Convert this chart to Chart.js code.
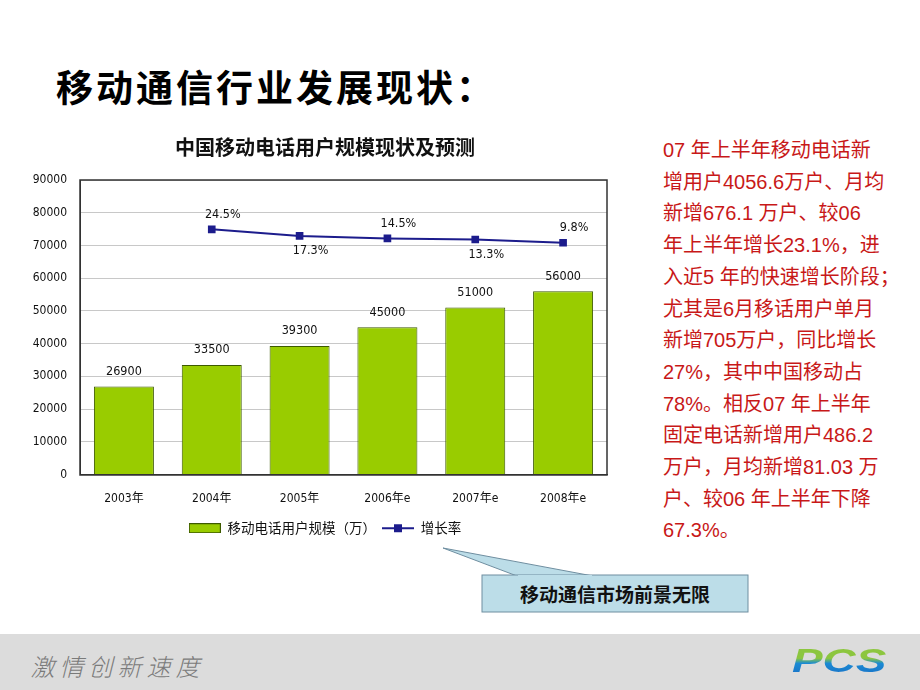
<!DOCTYPE html>
<html>
<head>
<meta charset="utf-8">
<script src="https://cdn.jsdelivr.net/npm/chart.js@4/dist/chart.umd.min.js"></script>
<style>
 body{margin:0;width:920px;height:690px;overflow:hidden;background:#fff;font-family:"Liberation Sans","Noto Sans CJK SC",sans-serif;position:relative}
 #title{position:absolute;left:56px;top:59px;font-size:37px;font-weight:bold;color:#000;letter-spacing:3px;font-family:"Noto Sans CJK SC",sans-serif}
 #wrap{position:absolute;left:20px;top:128px;width:610px;height:417px}
 #note{position:absolute;left:663px;top:135px;font-size:20px;line-height:31.7px;color:#c81818;font-family:"Liberation Sans","Noto Sans CJK SC",sans-serif;white-space:nowrap}
 #callout{position:absolute;left:0;top:0}
 #calloutText{position:absolute;left:482px;top:575px;width:266px;height:37px;line-height:37px;text-align:center;font-size:19px;font-weight:bold;color:#111;font-family:"Noto Sans CJK SC",sans-serif}
 #footer{position:absolute;left:0;top:634px;width:920px;height:56px;background:#dcdcdc}
 #motto{position:absolute;left:33px;top:14px;font-size:24px;color:#7a7a7a;font-family:"Noto Sans CJK SC",sans-serif;font-weight:300;transform:skewX(-14deg);letter-spacing:5px}
 #logo{position:absolute;left:792px;top:9px;font-size:34px;line-height:34px;font-weight:bold;font-style:italic;font-family:"Liberation Sans",sans-serif;background:linear-gradient(180deg,#8cc63f 0%,#8cc63f 45%,#1a8ad4 60%,#1a6fc4 100%);-webkit-background-clip:text;background-clip:text;color:transparent;transform:scaleX(1.35);transform-origin:left top}
</style>
</head>
<body>
<div id="title">移动通信行业发展现状：</div>
<div id="wrap"><canvas id="c" width="610" height="417"></canvas></div>
<div id="note">07 年上半年移动电话新<br>增用户4056.6万户、月均<br>新增676.1 万户、较06<br>年上半年增长23.1%，进<br>入近5 年的快速增长阶段；<br>尤其是6月移话用户单月<br>新增705万户，同比增长<br>27%，其中中国移动占<br>78%。相反07 年上半年<br>固定电话新增用户486.2<br>万户，月均新增81.03 万<br>户、较06 年上半年下降<br>67.3%。</div>
<svg id="callout" width="920" height="690">
 <polygon points="443,548 517,576 593,576" fill="#bcdde8" stroke="#6f8ea0" stroke-width="1"/>
 <rect x="482" y="575" width="266" height="37" fill="#bcdde8" stroke="#6f8ea0" stroke-width="1"/>
 <line x1="518" y1="576" x2="592" y2="576" stroke="#bcdde8" stroke-width="2"/>
</svg>
<div id="calloutText">移动通信市场前景无限</div>
<div id="footer"><div id="motto">激情创新速度</div><div id="logo">PCS</div></div>
<script>
const years = ["2003年","2004年","2005年","2006年e","2007年e","2008年e"]
const users = [26900,33500,39300,45000,51000,56000]
const growth = [null,24.5,17.3,14.5,13.3,9.8]
const growthLabelSide = [null,"up","down","up","down","up"]

const tickFont = {family:"'DejaVu Sans Condensed','Noto Sans CJK SC',sans-serif",size:12}

// legend swatches
function swatch(w,h,draw){
 const c=document.createElement("canvas");c.width=w;c.height=h
 draw(c.getContext("2d"));return c
}
const barSwatch = swatch(32,10,g=>{g.fillStyle="#99cc00";g.fillRect(0,0,32,10);g.strokeStyle="#3d5a00";g.strokeRect(0.5,0.5,31,9)})
const lineSwatch = swatch(32,10,g=>{g.strokeStyle="#1c1c8c";g.lineWidth=2;g.beginPath();g.moveTo(0,5);g.lineTo(32,5);g.stroke();g.fillStyle="#1c1c8c";g.fillRect(12,1,8,8)})

const labelPlugin = {
 id:"labels",
 afterDatasetsDraw(chart){
  const ctx=chart.ctx
  ctx.save()
  ctx.font="12.5px 'DejaVu Sans Condensed',sans-serif"
  ctx.fillStyle="#111"
  ctx.textAlign="center"
  ctx.textBaseline="middle"
  const bars=chart.getDatasetMeta(0).data
  bars.forEach((b,i)=>ctx.fillText(users[i],b.x,b.y-15))
  const pts=chart.getDatasetMeta(1).data
  pts.forEach((p,i)=>{
   if(growth[i]==null) return
   const dy=growthLabelSide[i]=="up"?-15:15
   ctx.fillText(growth[i]+"%",p.x+11,p.y+dy)
  })
  // plot frame
  const a=chart.chartArea
  ctx.strokeStyle="#333";ctx.lineWidth=1.5
  ctx.strokeRect(Math.round(a.left),Math.round(a.top),Math.round(a.right-a.left),Math.round(a.bottom-a.top))
  ctx.restore()
 }
}

new Chart(document.getElementById("c"),{
 type:"bar",
 data:{
  labels:years,
  datasets:[{
   label:"移动电话用户规模（万）",
   data:users,
   backgroundColor:"#99cc00",
   borderColor:"#3d5a00",
   borderWidth:1,
   categoryPercentage:1,
   barPercentage:0.683,
   yAxisID:"y"
  },{
   type:"line",
   label:"增长率",
   data:growth,
   borderColor:"#1c1c8c",
   backgroundColor:"#1c1c8c",
   borderWidth:2,
   pointStyle:"rect",
   pointRadius:4,
   tension:0,
   yAxisID:"y1"
  }]
 },
 options:{
  responsive:false,
  animation:false,
  events:[],
  layout:{padding:0},
  scales:{
   x:{
    grid:{display:false,drawTicks:false},
    border:{color:"#333"},
    afterFit(s){s.height=41},
    ticks:{font:tickFont,color:"#111",padding:17}
   },
   y:{
    min:0,max:90000,
    afterFit(s){s.width=60},
    grid:{color:"#c8c8c8",drawTicks:false},
    border:{color:"#333"},
    ticks:{stepSize:10000,font:tickFont,color:"#111",padding:13,callback:v=>String(v)}
   },
   y1:{
    position:"right",
    min:-243.6,max:78.4,
    afterFit(s){s.width=23},
    grid:{display:false,drawTicks:false},
    border:{display:false},
    ticks:{display:false}
   }
  },
  plugins:{
   title:{
    display:true,
    text:"中国移动电话用户规模现状及预测",
    color:"#111",
    font:{family:"'Noto Sans CJK SC',sans-serif",size:20,weight:"bold"},
    padding:{top:7,bottom:21}
   },
   legend:{
    position:"bottom",
    labels:{
     usePointStyle:true,
     pointStyleWidth:32,
     boxHeight:10,
     padding:6,
     color:"#111",
     font:{family:"'Noto Sans CJK SC',sans-serif",size:13.5},
     generateLabels(chart){
      return chart.data.datasets.map((d,i)=>({text:d.label,pointStyle:i==0?barSwatch:lineSwatch,datasetIndex:i,fontColor:"#111",lineWidth:0}))
     }
    }
   },
   tooltip:{enabled:false}
  }
 },
 plugins:[labelPlugin]
})
</script>
</body>
</html>
